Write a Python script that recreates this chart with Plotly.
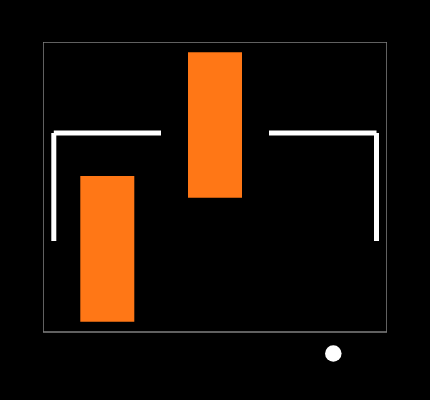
import plotly.graph_objects as go

bar_x = [64.3, 172.0]
bar_low = [10.3, 134.3]
bar_high = [156.0, 279.7]
bar_width = 54.0

seg_x = [10.8, 10.8, None, 10.8, 118.0, None, 333.5, 333.5, None, 333.5, 226.0]
seg_y = [91.0, 199.0, None, 199.0, 199.0, None, 91.0, 199.0, None, 199.0, 199.0]

frame_x = [0, 344]
frame_y = [0, 290]

dot_x = [290.3]
dot_y = [-21.5]

fig = go.Figure()
fig.add_trace(go.Bar(
    x=bar_x,
    y=[h - l for h, l in zip(bar_high, bar_low)],
    base=bar_low,
    width=bar_width,
    marker=dict(color="#ff7716", line=dict(width=0)),
    showlegend=False,
))
fig.add_trace(go.Scatter(
    x=seg_x, y=seg_y, mode="lines",
    line=dict(color="#ffffff", width=5),
    connectgaps=False, showlegend=False,
))
fig.add_trace(go.Scatter(
    x=dot_x, y=dot_y, mode="markers",
    marker=dict(color="#ffffff", size=16.5, line=dict(width=0)),
    showlegend=False,
))
fig.add_shape(
    type="rect", xref="x", yref="y",
    x0=frame_x[0], x1=frame_x[1], y0=frame_y[0], y1=frame_y[1],
    line=dict(color="#808080", width=1.5), layer="below",
)

axis = dict(showgrid=False, zeroline=False, showticklabels=False, ticks="", showline=False)
fig.update_layout(
    width=430, height=400,
    margin=dict(l=43, r=43, t=42, b=0, pad=0),
    paper_bgcolor="#000000", plot_bgcolor="#000000",
    xaxis=dict(range=[0, 344], **axis),
    yaxis=dict(range=[-68, 290], **axis),
)
fig.write_html(
    "out.html",
    config={"displayModeBar": False},
    post_script="document.body.style.margin='0';document.body.style.background='#000';",
)
